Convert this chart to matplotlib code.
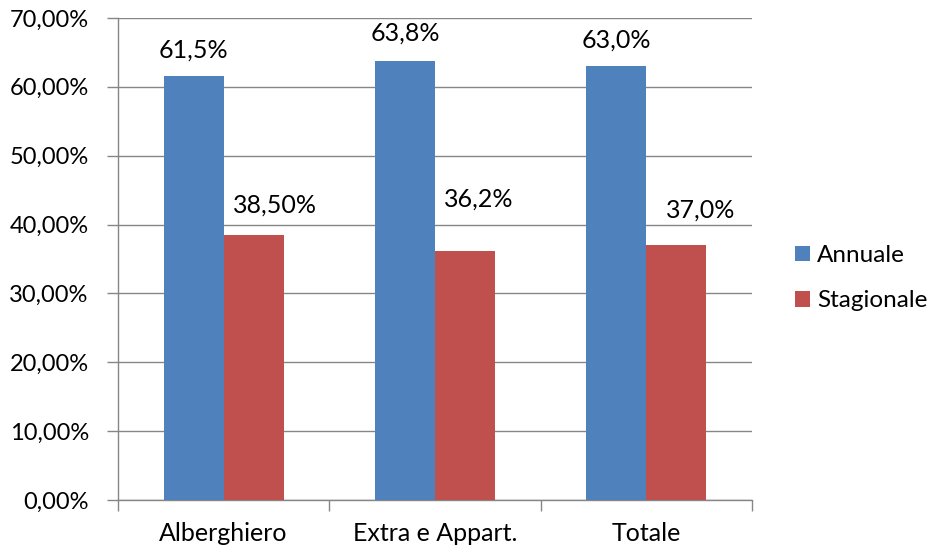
import matplotlib.pyplot as plt
import numpy as np

plt.rcParams['font.family'] = ['Lato', 'DejaVu Sans']

categories = ["Alberghiero", "Extra e Appart.", "Totale"]
annuale = [61.5, 63.8, 63.0]
stagionale = [38.5, 36.2, 37.0]
annuale_labels = ["61,5%", "63,8%", "63,0%"]
stagionale_labels = ["38,50%", "36,2%", "37,0%"]
y_ticks = [0, 10, 20, 30, 40, 50, 60, 70]

# label offsets (pixels) from the top centre of each bar
annuale_off = [(0, 26), (0, 28), (0, 26)]
stagionale_off = [(21, 30), (14, 52), (24, 35)]

blue = "#4F81BD"
red = "#C0504D"
grid_c = "#868686"
fs = 18

fig = plt.figure(figsize=(9.31, 5.49), dpi=100)
ax = fig.add_axes([0.1267, 0.0893, 0.681, 0.878])

x = np.arange(len(categories))
w = 0.284
ax.bar(x - w / 2, annuale, w, color=blue, label="Annuale", zorder=3)
ax.bar(x + w / 2, stagionale, w, color=red, label="Stagionale", zorder=3)

for xi, v, s, off in zip(x - w / 2, annuale, annuale_labels, annuale_off):
    ax.annotate(s, (xi, v), xytext=off, textcoords="offset pixels",
                ha="center", va="center", fontsize=fs)
for xi, v, s, off in zip(x + w / 2, stagionale, stagionale_labels, stagionale_off):
    ax.annotate(s, (xi, v), xytext=off, textcoords="offset pixels",
                ha="center", va="center", fontsize=fs)

ax.set_xlim(-0.5, 2.5)
ax.set_ylim(0, 70)
ax.set_yticks(y_ticks)
ax.set_yticklabels(["%d,00%%" % t for t in y_ticks], fontsize=17)
ax.yaxis.grid(True, color=grid_c, linewidth=1, zorder=0)

# category labels sit between the boundary ticks
ax.set_xticks([-0.5, 0.5, 1.5, 2.5])
ax.set_xticklabels([])
ax.set_xticks(x, minor=True)
ax.set_xticklabels(categories, minor=True, fontsize=fs)
ax.tick_params(axis="x", which="major", length=8, color=grid_c, width=1)
ax.tick_params(axis="x", which="minor", length=0, pad=16)
ax.tick_params(axis="y", length=8, color=grid_c, width=1, pad=13)

for side in ["top", "right"]:
    ax.spines[side].set_visible(False)
for side in ["left", "bottom"]:
    ax.spines[side].set_color(grid_c)
    ax.spines[side].set_linewidth(1)

ax.legend(loc="center left", bbox_to_anchor=(1.068, 0.46), frameon=False,
          fontsize=17.5, handlelength=0.6, handleheight=0.6,
          handletextpad=0.3, labelspacing=1.0, borderpad=0, borderaxespad=0)

fig.savefig("out.png", dpi=100)
